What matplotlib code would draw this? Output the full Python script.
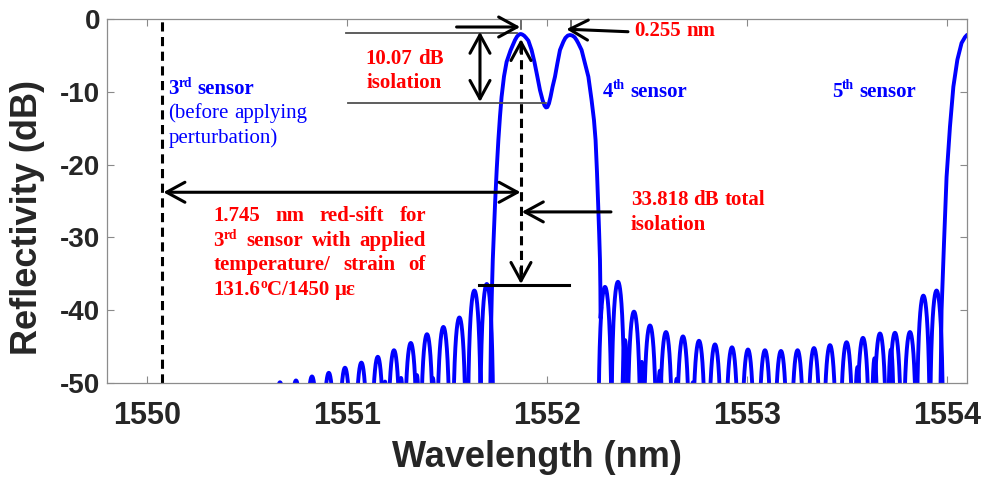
import numpy as np
import matplotlib
matplotlib.use("Agg")
import matplotlib.pyplot as plt
from matplotlib.transforms import ScaledTranslation

# ---------------- spectrum data (wavelength in nm, reflectivity in dB) ----------------
# merged main band: red-shifted 3rd sensor next to the 4th sensor
band_wl = [1551.716, 1551.717, 1551.720, 1551.724, 1551.729, 1551.735, 1551.741, 1551.749,
           1551.757, 1551.765, 1551.773, 1551.785, 1551.798, 1551.818, 1551.840, 1551.850,
           1551.860, 1551.868, 1551.876, 1551.886, 1551.896, 1551.907, 1551.923, 1551.937,
           1551.952, 1551.965, 1551.978, 1551.988, 1551.995, 1552.002, 1552.010, 1552.018,
           1552.028, 1552.040, 1552.052, 1552.065, 1552.082, 1552.092, 1552.104, 1552.115,
           1552.126, 1552.138, 1552.148, 1552.157, 1552.173, 1552.190, 1552.207, 1552.223,
           1552.235, 1552.243, 1552.250, 1552.256, 1552.261, 1552.265, 1552.267, 1552.268,
           1552.271]
band_db = [-52.0, -50.0, -43.0, -38.0, -33.1, -29.0, -25.0, -20.5,
           -16.6, -13.4, -10.7, -7.9, -5.9, -4.3, -2.9, -2.42,
           -2.13, -2.06, -2.12, -2.30, -2.60, -2.98, -4.26, -5.87,
           -7.93, -9.77, -11.14, -11.90, -12.15, -12.10, -11.60, -10.68,
           -9.31, -7.93, -6.10, -4.26, -3.12, -2.60, -2.28, -2.20,
           -2.27, -2.50, -2.90, -3.35, -4.26, -6.10, -7.93, -11.14,
           -13.89, -16.64, -21.0, -25.5, -29.5, -33.1, -37.0, -41.1,
           -39.8]

# rising edge of the 5th sensor
edge5_wl = [1553.966, 1553.968, 1553.973, 1553.985, 1553.998, 1554.015, 1554.032,
            1554.052, 1554.073, 1554.090, 1554.100, 1554.120]
edge5_db = [-52.0, -50.0, -40.0, -30.9, -21.7, -14.8, -9.3,
            -5.6, -3.3, -2.5, -2.2, -2.0]

# side-lobe maxima
lobe_wl = [1550.665, 1550.745, 1550.825, 1550.909, 1550.990, 1551.072, 1551.154,
           1551.235, 1551.319, 1551.400, 1551.482, 1551.562, 1551.637, 1551.699,
           1552.290, 1552.355, 1552.435, 1552.515, 1552.595, 1552.680, 1552.760,
           1552.840, 1552.925, 1553.005, 1553.090, 1553.170, 1553.253, 1553.335,
           1553.415, 1553.498, 1553.580, 1553.665, 1553.740, 1553.815, 1553.882,
           1553.948]
lobe_db = [-49.9, -49.65, -49.1, -48.6, -47.9, -47.2, -46.4,
           -45.5, -44.5, -43.3, -42.3, -41.0, -37.3, -36.4,
           -36.8, -36.1, -40.2, -42.1, -43.0, -43.6, -44.2,
           -44.7, -45.1, -45.4, -45.5, -45.6, -45.5, -45.2,
           -44.8, -44.4, -43.8, -43.2, -43.1, -43.0, -38.0,
           -37.3]

# weak secondary ripples beside the side lobes
ripple_wl = [1551.190, 1551.270, 1551.349, 1551.429,
             1552.390, 1552.474, 1552.565, 1552.649, 1552.730,
             1553.553, 1553.638, 1553.720]
ripple_db = [-49.8, -49.3, -48.9, -49.3,
             -44.1, -47.1, -48.3, -49.4, -49.9,
             -47.8, -46.6, -45.4]

xticks = [1550, 1551, 1552, 1553, 1554]
yticks = [0, -10, -20, -30, -40, -50]

# ---------------- figure ----------------
DPI = 100
fig = plt.figure(figsize=(9.87, 4.82), dpi=DPI)
ax = fig.add_axes([0.1084, 0.2054, 0.8713, 0.7552])
ax.set_xlim(1549.8, 1554.1)
ax.set_ylim(-50, 0)

BLUE = (0, 0, 1)
RED = (1, 0, 0)
SANS = "Liberation Sans"
SERIF = "Liberation Serif"
AXIS_TXT = "#262626"


def lobe_trace(centres, peaks, width):
    """Concatenate rounded lobes (one per maximum) into a single NaN-separated trace."""
    xs, ys = [], []
    for c, p in zip(centres, peaks):
        u = np.linspace(-0.4995, 0.4995, 81)
        amp = np.abs(np.cos(np.pi * u))
        xs.append(c + u * width)
        ys.append(np.maximum(p + 20 * np.log10(amp), -60))
        xs.append([np.nan])
        ys.append([np.nan])
    return np.concatenate(xs), np.concatenate(ys)


lw_curve = 2.8
lx, ly = lobe_trace(lobe_wl, lobe_db, 0.07)
rx, ry = lobe_trace(ripple_wl, ripple_db, 0.035)
ax.plot(rx, ry, color=BLUE, lw=lw_curve, solid_joinstyle="round")
ax.plot(lx, ly, color=BLUE, lw=lw_curve, solid_joinstyle="round")
ax.plot(band_wl, band_db, color=BLUE, lw=lw_curve, solid_joinstyle="round")
ax.plot(edge5_wl, edge5_db, color=BLUE, lw=lw_curve, solid_joinstyle="round")

# ---------------- axes styling ----------------
ax.set_xticks(xticks)
ax.set_yticks(yticks)
ax.set_xticklabels([str(v) for v in xticks])
ax.set_yticklabels([str(v) for v in yticks])
ax.tick_params(direction="in", length=5, width=0.8, color="#8a8a8a",
               top=True, right=True, labelcolor=AXIS_TXT)
ax.tick_params(axis="x", pad=13)
ax.tick_params(axis="y", pad=5)
for lab in ax.get_xticklabels():
    lab.set_fontfamily(SANS)
    lab.set_fontweight("bold")
    lab.set_fontsize(22)
for lab in ax.get_yticklabels():
    lab.set_fontfamily(SANS)
    lab.set_fontweight("bold")
    lab.set_fontsize(20)
for sp in ax.spines.values():
    sp.set_color("#8c8c8c")
    sp.set_linewidth(0.9)

ax.set_xlabel("Wavelength (nm)", fontfamily=SANS, fontweight="bold", fontsize=26,
              color=AXIS_TXT, va="center")
ax.xaxis.set_label_coords(0.5, -0.204)
ax.set_ylabel("Reflectivity (dB)", fontfamily=SANS, fontweight="bold", fontsize=26,
              color=AXIS_TXT, va="center")
ax.yaxis.set_label_coords(-0.092, 0.455)

# ---------------- annotation lines and arrows ----------------
K = "black"
DASH = (0, (3, 1.8))
ALW = 2.2


def arrow(x0, y0, x1, y1, style="->"):
    ax.annotate("", xy=(x1, y1), xytext=(x0, y0),
                arrowprops=dict(arrowstyle=f"{style},head_length=0.55,head_width=0.3",
                                lw=ALW, color=K, shrinkA=0, shrinkB=0,
                                mutation_scale=24))


# reference position of the 3rd sensor before perturbation
ax.axvline(1550.077, color=K, lw=ALW, ls=DASH)

# dashed drop from the shifted peak to the side-lobe level
x_pk = 1551.870
ax.plot([x_pk, x_pk], [-3.6, -35.4], color=K, lw=ALW, ls=DASH)
arrow(x_pk, -4.6, x_pk, -2.75)
arrow(x_pk, -34.2, x_pk, -36.4)
ax.plot([1551.660, 1552.110], [-36.6, -36.6], color=K, lw=ALW)

# red shift span
arrow(1550.082, -23.8, 1551.868, -23.8, "<->")
# pointer to the total isolation
arrow(1552.320, -26.5, 1551.874, -26.5)

# isolation between the two peaks
ax.plot([1550.995, 1551.850], [-1.97, -1.97], color="#505050", lw=1.3)
ax.plot([1551.005, 1551.995], [-11.5, -11.5], color="#505050", lw=1.3)
arrow(1551.665, -11.4, 1551.665, -1.75, "<->")

# peak separation markers
ax.plot([1551.868, 1551.868], [0, -1.4], color="#505050", lw=1.2)
ax.plot([1552.118, 1552.118], [0, -1.05], color="#505050", lw=1.2)
arrow(1551.548, -1.1, 1551.866, -1.1)
arrow(1552.405, -1.75, 1552.097, -1.4)

# ---------------- rich text helpers ----------------
fig.canvas.draw()
renderer = fig.canvas.get_renderer()


def _make(x, y, s, dx_px, rise_pt, size, weight, color):
    tr = ax.transData + ScaledTranslation(dx_px / DPI, rise_pt / 72.0, fig.dpi_scale_trans)
    return ax.text(x, y, s, transform=tr, fontsize=size, fontweight=weight,
                   fontfamily=SERIF, color=color, ha="left", va="baseline")


def _width(s, size, weight):
    t = ax.text(0, 0, s, fontsize=size, fontweight=weight, fontfamily=SERIF)
    w = t.get_window_extent(renderer).width
    t.remove()
    return w


def _word_width(word, size, weight):
    total = 0.0
    for s, sup in word:
        total += _width(s, size * 0.65 if sup else size, weight)
    return total


def rich_line(x, y, words, size=15, weight="bold", color=RED, right=None, ha="left"):
    """Draw a line built from words; each word is a list of (text, superscript) runs."""
    widths = [_word_width(w, size, weight) for w in words]
    space = _width("n n", size, weight) - _width("nn", size, weight)
    if right is not None and len(words) > 1:
        span = ax.transData.transform((right, y))[0] - ax.transData.transform((x, y))[0]
        gap = (span - sum(widths)) / (len(words) - 1)
    else:
        gap = space
    total = sum(widths) + gap * (len(words) - 1)
    dx = -total / 2 if ha == "center" else 0.0
    for word, w in zip(words, widths):
        for s, sup in word:
            sz = size * 0.65 if sup else size
            rise = size * 0.36 if sup else 0.0
            _make(x, y, s, dx, rise, sz, weight, color)
            dx += _width(s, sz, weight)
        dx += gap


def plain(text):
    return [[(w, False)] for w in text.split(" ")]


# isolation between the peaks
rich_line(1551.288, -6.19, plain("10.07 dB"), ha="center")
rich_line(1551.288, -9.53, plain("isolation"), ha="center")

# sensor labels
rich_line(1550.107, -10.36, [[("3", False), ("rd", True)], [("sensor", False)]], color=BLUE)
rich_line(1550.107, -13.66, plain("(before applying"), weight="normal", color=BLUE)
rich_line(1550.107, -17.0, plain("perturbation)"), weight="normal", color=BLUE)
rich_line(1552.277, -10.67, [[("4", False), ("th", True)], [("sensor", False)]], color=BLUE)
rich_line(1553.424, -10.67, [[("5", False), ("th", True)], [("sensor", False)]], color=BLUE)

# peak separation
rich_line(1552.436, -2.27, plain("0.255 nm"))

# total isolation
rich_line(1552.419, -25.54, plain("33.818 dB total"))
rich_line(1552.419, -28.98, plain("isolation"))

# red-shift description (justified block)
left, right = 1550.332, 1551.395
rich_line(left, -27.74, plain("1.745 nm red-sift for"), right=right)
rich_line(left, -31.2, [[("3", False), ("rd", True)]] + plain("sensor with applied"), right=right)
rich_line(left, -34.5, plain("temperature/ strain of"), right=right)
rich_line(left, -37.96, [[("131.6", False), ("o", True), ("C/1450", False)], [("\u03bc\u03b5", False)]])

fig.savefig("out.png", dpi=DPI)
